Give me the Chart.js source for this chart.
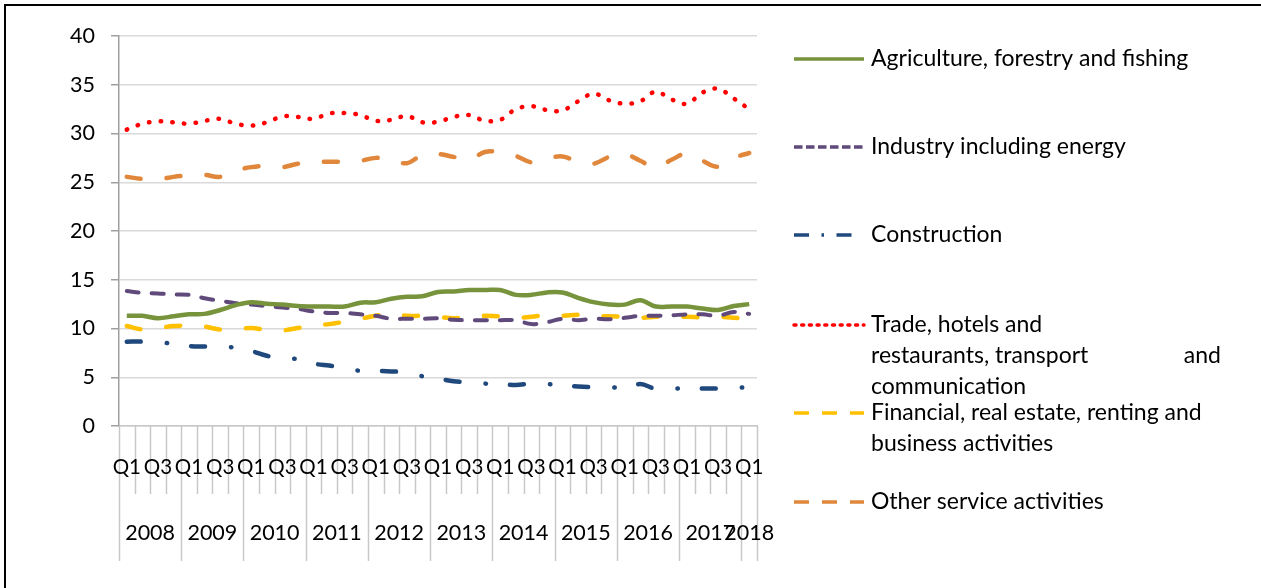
<!DOCTYPE html>
<html>
<head>
<meta charset="utf-8">
<script src="https://cdn.jsdelivr.net/npm/chart.js@4.4.1/dist/chart.umd.min.js"></script>
<style>
  body { margin: 0; background: #fff; }
  #wrap { width: 1261px; height: 588px; position: relative; }
</style>
</head>
<body>
<div id="wrap"><canvas id="sectorChart"></canvas></div>
<script>
// quarters 2008 Q1 .. 2018 Q1
var categories = [
  '2008 Q1','2008 Q2','2008 Q3','2008 Q4',
  '2009 Q1','2009 Q2','2009 Q3','2009 Q4',
  '2010 Q1','2010 Q2','2010 Q3','2010 Q4',
  '2011 Q1','2011 Q2','2011 Q3','2011 Q4',
  '2012 Q1','2012 Q2','2012 Q3','2012 Q4',
  '2013 Q1','2013 Q2','2013 Q3','2013 Q4',
  '2014 Q1','2014 Q2','2014 Q3','2014 Q4',
  '2015 Q1','2015 Q2','2015 Q3','2015 Q4',
  '2016 Q1','2016 Q2','2016 Q3','2016 Q4',
  '2017 Q1','2017 Q2','2017 Q3','2017 Q4',
  '2018 Q1'
];
var yearTicks = ['2008','2009','2010','2011','2012','2013','2014','2015','2016','2017','2018'];
var yTicks = [0, 5, 10, 15, 20, 25, 30, 35, 40];

var agriculture = [11.3, 11.3, 11.05, 11.25, 11.45, 11.5, 11.9, 12.4, 12.7, 12.55, 12.45, 12.3, 12.25, 12.25, 12.25, 12.65, 12.7, 13.05, 13.25, 13.3, 13.75, 13.8, 13.95, 13.95, 13.95, 13.45, 13.45, 13.7, 13.7, 13.15, 12.7, 12.45, 12.45, 12.9, 12.25, 12.25, 12.25, 12.05, 11.9, 12.3, 12.5];
var industry = [13.85, 13.65, 13.6, 13.5, 13.45, 13.1, 12.85, 12.6, 12.45, 12.3, 12.15, 12.0, 11.75, 11.6, 11.6, 11.45, 11.3, 11.0, 11.0, 11.0, 11.05, 10.9, 10.85, 10.85, 10.85, 10.85, 10.45, 10.65, 11.0, 10.85, 11.0, 10.95, 11.1, 11.3, 11.3, 11.35, 11.45, 11.45, 11.3, 11.7, 11.5];
var construction = [8.65, 8.65, 8.55, 8.45, 8.2, 8.15, 8.1, 8.05, 7.7, 7.2, 7.0, 6.85, 6.4, 6.2, 6.0, 5.65, 5.65, 5.6, 5.5, 5.1, 4.85, 4.6, 4.45, 4.35, 4.3, 4.2, 4.35, 4.3, 4.15, 4.05, 4.0, 4.0, 3.9, 4.3, 3.8, 3.8, 3.9, 3.85, 3.85, 3.95, 3.95];
var trade = [30.4, 31.0, 31.25, 31.15, 31.0, 31.3, 31.5, 31.0, 30.8, 31.15, 31.75, 31.7, 31.5, 32.05, 32.1, 31.9, 31.3, 31.4, 31.8, 31.15, 31.2, 31.7, 31.9, 31.3, 31.4, 32.5, 32.8, 32.4, 32.35, 33.3, 34.1, 33.4, 33.05, 33.3, 34.3, 33.5, 33.05, 34.2, 34.6, 33.6, 32.5];
var financial = [10.25, 9.9, 10.05, 10.25, 10.3, 10.2, 9.9, 9.95, 10.05, 9.85, 9.8, 10.05, 10.35, 10.45, 10.7, 11.0, 11.3, 11.55, 11.3, 11.3, 11.2, 11.05, 11.2, 11.3, 11.25, 11.1, 11.2, 11.4, 11.3, 11.4, 11.25, 11.25, 11.2, 11.1, 11.2, 11.2, 11.2, 11.15, 11.2, 11.1, 10.95];
var otherServices = [25.55, 25.35, 25.3, 25.55, 25.7, 25.75, 25.55, 26.2, 26.55, 26.7, 26.55, 26.9, 27.1, 27.1, 27.1, 27.2, 27.5, 27.3, 26.95, 27.8, 27.9, 27.6, 27.3, 28.1, 28.1, 27.7, 27.05, 27.45, 27.65, 27.1, 26.9, 27.6, 27.9, 27.2, 26.5, 27.3, 27.95, 27.2, 26.6, 27.5, 28.0];

var FONT = 'Lato, "Open Sans", sans-serif';

// legend rows, one entry per dataset (line breaks as in the original)
var legendRows = [
  ['Agriculture, forestry and fishing'],
  ['Industry including energy'],
  ['Construction'],
  ['Trade, hotels and', ['restaurants, transport', 'and'], 'communication'],
  ['Financial, real estate, renting and', 'business activities'],
  ['Other service activities']
];
var legendY = [59, 147, 235, 325, 413, 502];
var legendDash = [[], [8.5, 3.5], [15, 12.5, 2.5, 12.5], [2, 5.7], [15, 13], [15, 13]];

var xAxisPlugin = {
  id: 'xAxisPlugin',
  afterDraw: function (chart) {
    var ctx = chart.ctx;
    var xs = chart.scales.x;
    var area = chart.chartArea;
    var w = xs.getPixelForValue(1) - xs.getPixelForValue(0);
    var left = xs.getPixelForValue(0) - w / 2;
    ctx.save();
    ctx.strokeStyle = '#c8c8c8';
    ctx.lineWidth = 1.5;
    for (var k = 0; k <= categories.length; k++) {
      var x = Math.round(left + k * w) + 0.5;
      var longLine = (k % 4 === 0) || k === categories.length;
      ctx.beginPath();
      ctx.moveTo(x, area.bottom);
      ctx.lineTo(x, area.bottom + (longLine ? 135 : 68));
      ctx.stroke();
    }
    ctx.fillStyle = '#000';
    ctx.font = '20.5px ' + FONT;
    ctx.textAlign = 'center';
    ctx.textBaseline = 'middle';
    for (var i = 0; i < categories.length; i += 2) {
      ctx.fillText(categories[i].split(' ')[1], xs.getPixelForValue(i), area.bottom + 41);
    }
    ctx.font = '21.5px ' + FONT;
    for (var y = 0; y < yearTicks.length; y++) {
      var first = y * 4;
      var last = Math.min(first + 3, categories.length - 1);
      var cx = (xs.getPixelForValue(first) + xs.getPixelForValue(last)) / 2;
      ctx.fillText(yearTicks[y], cx, area.bottom + 107);
    }
    ctx.restore();
  }
};

var legendPlugin = {
  id: 'legendPlugin',
  afterDraw: function (chart) {
    var ctx = chart.ctx;
    ctx.save();
    // frame
    ctx.strokeStyle = '#000';
    ctx.lineWidth = 2;
    ctx.beginPath();
    ctx.moveTo(5, 588);
    ctx.lineTo(5, 5);
    ctx.lineTo(1261, 5);
    ctx.stroke();

    chart.data.datasets.forEach(function (ds, i) {
      var y = legendY[i];
      ctx.strokeStyle = ds.borderColor;
      ctx.lineWidth = 3.5;
      ctx.lineCap = i === 3 ? 'round' : 'butt';
      ctx.setLineDash(legendDash[i]);
      ctx.beginPath();
      ctx.moveTo(794, y);
      ctx.lineTo(i === 2 ? 852 : 864, y);
      ctx.stroke();
      ctx.setLineDash([]);

      ctx.fillStyle = '#000';
      ctx.font = '23px ' + FONT;
      ctx.textBaseline = 'middle';
      legendRows[i].forEach(function (row, r) {
        var ty = y + r * 30.8;
        if (Array.isArray(row)) {
          ctx.textAlign = 'left';
          ctx.fillText(row[0], 871, ty);
          ctx.textAlign = 'right';
          ctx.fillText(row[1], 1221, ty);
        } else {
          ctx.textAlign = 'left';
          ctx.fillText(row, 871, ty);
        }
      });
    });
    ctx.restore();
  }
};

new Chart(document.getElementById('sectorChart'), {
  type: 'line',
  data: {
    labels: categories,
    datasets: [{
      label: 'Agriculture, forestry and fishing',
      data: agriculture,
      borderColor: '#77933C',
      borderWidth: 4.5
    }, {
      label: 'Industry including energy',
      data: industry,
      borderColor: '#604A7B',
      borderWidth: 4,
      borderDash: [12, 13],
      borderCapStyle: 'round'
    }, {
      label: 'Construction',
      data: construction,
      borderColor: '#1F497D',
      borderWidth: 4.5,
      borderDash: [14, 26, 0.5, 24],
      borderCapStyle: 'round'
    }, {
      label: 'Trade, hotels and restaurants, transport and communication',
      data: trade,
      borderColor: '#FF0000',
      borderWidth: 4.5,
      borderDash: [0.5, 11.2],
      borderCapStyle: 'round'
    }, {
      label: 'Financial, real estate, renting and business activities',
      data: financial,
      borderColor: '#FFC000',
      borderWidth: 4.5,
      borderDash: [14, 26],
      borderCapStyle: 'round'
    }, {
      label: 'Other service activities',
      data: otherServices,
      borderColor: '#E0873B',
      borderWidth: 4.5,
      borderDash: [14, 26],
      borderCapStyle: 'round'
    }]
  },
  options: {
    responsive: true,
    maintainAspectRatio: false,
    animation: false,
    layout: { padding: { top: 36, right: 504, bottom: 0, left: 0 } },
    elements: {
      point: { radius: 0, hoverRadius: 0 },
      line: { tension: 0.35, fill: false, borderJoinStyle: 'round' }
    },
    plugins: {
      legend: { display: false },
      tooltip: { enabled: false }
    },
    scales: {
      x: {
        offset: true,
        grid: { display: false },
        ticks: { display: false },
        border: { color: '#c8c8c8', width: 1.5 },
        afterFit: function (scale) { scale.height = 162; }
      },
      y: {
        min: yTicks[0],
        max: yTicks[yTicks.length - 1],
        afterBuildTicks: function (scale) {
          scale.ticks = yTicks.map(function (v) { return { value: v }; });
        },
        grid: { color: '#d9d9d9', lineWidth: 1.5, tickLength: 8, tickColor: '#a0a0a0' },
        border: { color: '#a0a0a0', width: 1.5 },
        ticks: { color: '#000', padding: 16, font: { family: 'Lato', size: 21.5 } },
        afterFit: function (scale) { scale.width = 119; }
      }
    }
  },
  plugins: [xAxisPlugin, legendPlugin]
});
</script>
</body>
</html>
